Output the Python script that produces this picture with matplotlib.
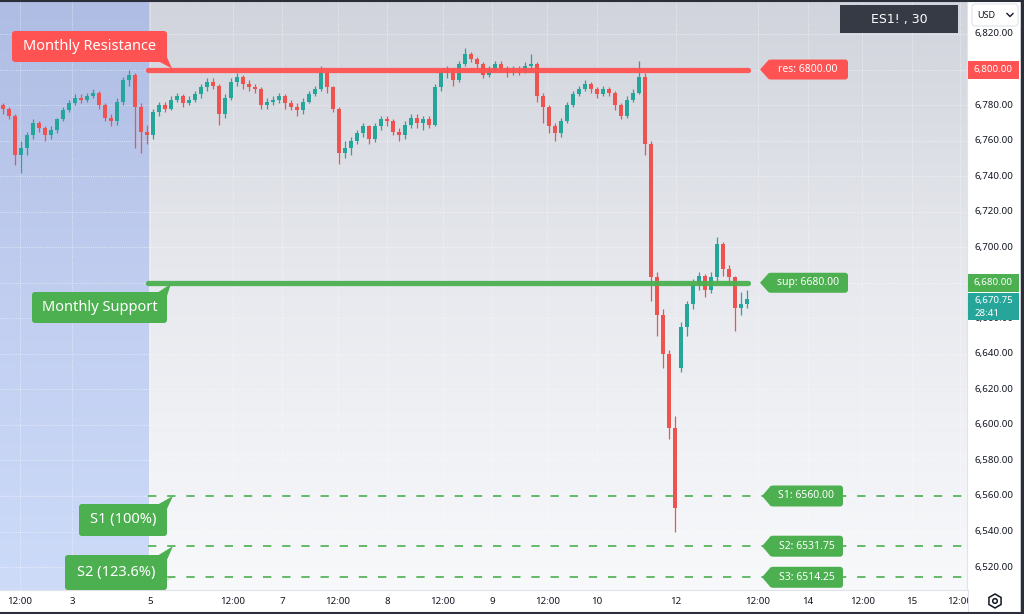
import numpy as np
import matplotlib.pyplot as plt
from matplotlib.colors import LinearSegmentedColormap
from matplotlib.patches import FancyBboxPatch, Polygon, RegularPolygon, Circle, Rectangle

plt.rcParams['font.family'] = ['Noto Sans', 'DejaVu Sans']

# ---------------------------------------------------------------
# ES1! 30m - velas (muestreo ~1 vela cada 6 px)
# ---------------------------------------------------------------
closes = [
    6778, 6774, 6752, 6756, 6763, 6770, 6767, 6763, 6766, 6772,
    6777, 6781, 6784, 6783, 6785, 6787, 6780, 6773, 6771, 6782,
    6794, 6797, 6779, 6765, 6763,
    6776, 6780, 6778, 6783, 6785, 6781, 6783, 6786, 6790, 6793,
    6791, 6775, 6784, 6793, 6796, 6792, 6790, 6789, 6780, 6782,
    6783, 6785, 6781, 6779, 6777, 6782, 6786, 6789, 6798, 6790,
    6778, 6753, 6756, 6760, 6764, 6768, 6761, 6768, 6772, 6771,
    6765, 6763, 6769, 6773, 6770, 6772, 6769, 6790, 6798, 6800,
    6794, 6803, 6809, 6806, 6803, 6797, 6800, 6803, 6801, 6798,
    6800, 6799, 6802, 6803,
    6785, 6779, 6768, 6764, 6771, 6780, 6786, 6789, 6792, 6789,
    6786, 6789, 6787, 6780, 6774, 6783, 6787, 6796, 6758, 6683,
    6662, 6640, 6598, 6553,
    6655, 6668, 6679, 6684, 6676, 6683, 6702, 6688, 6683, 6666, 6668, 6670.75,
]
highs = [
    6781, 6779, 6775, 6760, 6765, 6772, 6771, 6768, 6768, 6773,
    6779, 6783, 6786, 6786, 6787, 6789, 6788, 6781, 6775, 6784,
    6796, 6800, 6798, 6781, 6769,
    6778, 6782, 6782, 6785, 6787, 6786, 6785, 6788, 6792, 6795,
    6795, 6792, 6786, 6795, 6798, 6797, 6794, 6792, 6790, 6784,
    6785, 6787, 6786, 6783, 6781, 6784, 6788, 6791, 6802, 6799,
    6791, 6779, 6760, 6762, 6766, 6770, 6769, 6770, 6774, 6774,
    6772, 6767, 6771, 6775, 6775, 6774, 6774, 6792, 6800, 6802,
    6801, 6805, 6812, 6810, 6807, 6804, 6802, 6805, 6805, 6802,
    6802, 6802, 6804, 6809,
    6804, 6787, 6780, 6770, 6773, 6782, 6788, 6791, 6794, 6793,
    6790, 6791, 6790, 6788, 6781, 6785, 6789, 6805, 6798, 6760,
    6686, 6665, 6642, 6605,
    6658, 6670, 6682, 6686, 6685, 6686, 6706, 6703, 6690, 6684, 6675, 6676,
]
lows = [
    6775, 6772, 6746, 6742, 6752, 6761, 6765, 6760, 6761, 6764,
    6771, 6776, 6780, 6781, 6782, 6784, 6778, 6771, 6768, 6769,
    6780, 6791, 6756, 6753, 6758,
    6761, 6774, 6776, 6777, 6782, 6779, 6780, 6782, 6784, 6788,
    6789, 6769, 6773, 6783, 6791, 6789, 6788, 6787, 6778, 6778,
    6780, 6781, 6778, 6777, 6774, 6775, 6781, 6785, 6788, 6787,
    6776, 6747, 6750, 6752, 6758, 6762, 6758, 6759, 6766, 6768,
    6763, 6760, 6761, 6767, 6767, 6766, 6767, 6768, 6788, 6795,
    6791, 6793, 6802, 6804, 6801, 6795, 6796, 6799, 6799, 6796,
    6797, 6797, 6798, 6800,
    6782, 6770, 6764, 6760, 6762, 6770, 6779, 6785, 6788, 6787,
    6784, 6785, 6785, 6777, 6772, 6773, 6782, 6786, 6752, 6670,
    6650, 6632, 6592, 6540,
    6630, 6650, 6665, 6676, 6672, 6674, 6680, 6684, 6679, 6653, 6662, 6666,
]
first_open  = 6780.0
sunday_open = 6632.0     # hueco de apertura del domingo 12
gap_bar     = 113

opens = [first_open] + closes[:-1]
opens[gap_bar] = sunday_open

# Niveles
res_level  = 6800.00
sup_level  = 6680.00
s_levels   = [6560.00, 6531.75, 6514.25]
s_names    = ["S1", "S2", "S3"]
last_price = 6670.75
countdown  = "28:41"

tick_pos    = [2.8, 11.5, 24.5, 38.3, 46.5, 55.8, 64.0, 73.3, 81.5, 90.7,
               99.0, 112.2, 125.8, 134.2, 143.2, 151.5, 159.5]
tick_labels = ["12:00", "3", "5", "12:00", "7", "12:00", "8", "12:00", "9",
               "12:00", "10", "12", "12:00", "14", "12:00", "15", "12:00"]
price_ticks = np.arange(6520, 6821, 20)

# ---------------------------------------------------------------
ROJO     = '#ff5252'
VERDE    = '#4caf50'
TEAL     = '#26a69a'
VELA_UP  = '#26a69a'
VELA_DN  = '#ef5350'
TXT      = '#131722'
SEP      = '#e0e3eb'

W, H = 1024, 614
fig = plt.figure(figsize=(W / 100, H / 100), dpi=100)
fig.patch.set_facecolor('white')

ax = fig.add_axes([0, 24 / H, 967 / W, 588 / H])
xmin, xmax = -0.5, 160.67
ymin, ymax = 6507.1, 6838.0
zona_azul_fin = 24.2
linea_fin     = 124.2

# fondos degradados
fondo = LinearSegmentedColormap.from_list('fondo', ['#f8f9fb', '#e8eaef', '#d1d4dc'])
azul  = LinearSegmentedColormap.from_list('azul', ['#cddbf9', '#c1cef0', '#afbde4'])
grad = np.linspace(0, 1, 256).reshape(-1, 1)
ax.imshow(grad, cmap=fondo, origin='lower', aspect='auto',
          extent=[xmin, xmax, ymin, ymax], zorder=0)
ax.imshow(grad, cmap=azul, origin='lower', aspect='auto',
          extent=[xmin, zona_azul_fin, ymin, ymax], zorder=0.5)

for p in price_ticks:
    ax.axhline(p, color='white', lw=0.6, ls=':', alpha=0.7, zorder=1)
for t in tick_pos:
    ax.axvline(t, color='white', lw=0.6, ls=':', alpha=0.7, zorder=1)

# velas
o = np.array(opens, dtype=float)
c = np.array(closes, dtype=float)
idx = np.arange(len(c))
col = np.where(c >= o, VELA_UP, VELA_DN)
ax.vlines(idx, lows, highs, colors=col, lw=0.9, zorder=2)
cuerpo = np.maximum(np.abs(c - o), 0.4)
ax.bar(idx, cuerpo, bottom=np.minimum(o, c), width=0.55, color=col,
       linewidth=0, zorder=3)

# niveles
ax.plot([zona_azul_fin, linea_fin], [res_level, res_level], color=ROJO, lw=3.8,
        solid_capstyle='round', alpha=0.95, zorder=4)
ax.plot([zona_azul_fin, linea_fin], [sup_level, sup_level], color=VERDE, lw=3.8,
        solid_capstyle='round', alpha=0.95, zorder=4)
for s in s_levels:
    ax.plot([zona_azul_fin, xmax], [s, s], color=VERDE, lw=1.2,
            ls=(0, (5, 6.5)), zorder=4)

ax.set_xlim(xmin, xmax)
ax.set_ylim(ymin, ymax)
ax.set_yticks([])
ax.set_xticks(tick_pos)
ax.set_xticklabels(tick_labels)
ax.tick_params(axis='x', length=0, pad=5, labelsize=7, labelcolor=TXT)
for lado in ['top', 'left', 'right']:
    ax.spines[lado].set_visible(False)
ax.spines['bottom'].set_color(SEP)
ax.spines['bottom'].set_linewidth(0.8)

# eje de precios
pax = fig.add_axes([967 / W, 24 / H, 54 / W, 588 / H])
pax.set_zorder(3)
pax.set_facecolor('white')
pax.set_xlim(0, 1)
pax.set_ylim(ymin, ymax)
pax.set_xticks([])
pax.set_yticks([])
for lado in ['top', 'bottom', 'right']:
    pax.spines[lado].set_visible(False)
pax.spines['left'].set_color(SEP)
pax.spines['left'].set_linewidth(0.8)
for p in price_ticks:
    pax.text(0.5, p, f"{p:,.2f}", ha='center', va='center', fontsize=7, color=TXT)

# capa de anotaciones en pixeles
fig.canvas.draw()
def py(precio):
    return H - ax.transData.transform((0, precio))[1]

ov = fig.add_axes([0, 0, 1, 1])
ov.set_zorder(10)
ov.set_xlim(0, W)
ov.set_ylim(H, 0)
ov.axis('off')
ov.patch.set_alpha(0)

# esquina inferior derecha (tapa la etiqueta de tiempo cortada)
ov.add_patch(Rectangle((967.5, 590.5), 54, 22, fc='white', ec='none'))
ov.plot([967.5, 967.5], [590, H], color=SEP, lw=0.8)

def caja(x0, y0, w, h, color, texto, fs, tc='white'):
    ov.add_patch(FancyBboxPatch((x0, y0), w, h, boxstyle='round,pad=0,rounding_size=3',
                                fc=color, ec='none'))
    ov.text(x0 + w / 2, y0 + h / 2, texto, ha='center', va='center',
            fontsize=fs, color=tc)

def etiqueta(y, texto, color, x_tip=760, w=80, h=20):
    ov.add_patch(Polygon([(x_tip, y), (x_tip + 9, y - h / 2), (x_tip + 9, y + h / 2)],
                         closed=True, fc=color, ec='none'))
    caja(x_tip + 8, y - h / 2, w, h, color, texto, 7.5)

# llamadas de la izquierda
caja(12, 31, 155, 31, ROJO, "Monthly Resistance", 10.5)
ov.add_patch(Polygon([(158, 61), (166, 55), (172, py(res_level) - 1)], fc=ROJO, ec='none'))
caja(32, 292, 135, 31, VERDE, "Monthly Support", 10.5)
ov.add_patch(Polygon([(157, 293), (166, 299), (171, py(sup_level) + 1)], fc=VERDE, ec='none'))
caja(79, 504, 88, 32, VERDE, "S1 (100%)", 10.5)
ov.add_patch(Polygon([(157, 505), (166, 511), (173, py(s_levels[0]))], fc=VERDE, ec='none'))
caja(65, 555, 102, 35, VERDE, "S2 (123.6%)", 10.5)
ov.add_patch(Polygon([(157, 556), (166, 562), (173, py(s_levels[1]))], fc=VERDE, ec='none'))
ov.add_patch(Polygon([(157, 585), (166, 580), (173, py(s_levels[2]))], fc=VERDE, ec='none'))

# etiquetas de la derecha
etiqueta(py(res_level), f"res: {res_level:.2f}", ROJO)
etiqueta(py(sup_level), f"sup: {sup_level:.2f}", VERDE)
for nombre, s in zip(s_names, s_levels):
    etiqueta(py(s), f"{nombre}: {s:.2f}", VERDE, x_tip=762, w=73, h=21)

# marcas en el eje de precios
ov.add_patch(Rectangle((968, py(res_level) - 9), 51, 18, fc=ROJO, ec='none'))
ov.text(993.5, py(res_level), f"{res_level:,.2f}", ha='center', va='center', fontsize=7, color='white')
ov.add_patch(Rectangle((968, py(sup_level) - 9), 51, 18, fc=VERDE, ec='none'))
ov.text(993.5, py(sup_level), f"{sup_level:,.2f}", ha='center', va='center', fontsize=7, color='white')
yl = py(last_price)
ov.add_patch(Rectangle((968, yl - 6), 51, 27, fc=TEAL, ec='none'))
ov.text(993.5, yl + 1, f"{last_price:,.2f}", ha='center', va='center', fontsize=7, color='white')
ov.text(975, yl + 14, countdown, ha='left', va='center', fontsize=7, color='white')

# cabecera
ov.add_patch(Rectangle((840, 5), 118, 28, fc='#363a45', ec='none'))
ov.text(899, 19, "ES1! , 30", ha='center', va='center', fontsize=9, color='white',
        family=['DejaVu Sans'])
ov.add_patch(FancyBboxPatch((972, 4), 46, 22, boxstyle='round,pad=0,rounding_size=3',
                            fc='white', ec=SEP, lw=0.8))
ov.text(977, 15, "USD", ha='left', va='center', fontsize=6.5, color=TXT, fontweight='bold')
ov.plot([1007, 1010, 1013], [13.5, 16.5, 13.5], color=TXT, lw=1)

# icono de ajustes
ov.add_patch(RegularPolygon((995, 601), 6, radius=7, fill=False, ec=TXT, lw=1.1))
ov.add_patch(Circle((995, 601), 2.3, fill=False, ec=TXT, lw=1.1))

# marco
ov.plot([0, W], [1, 1], color='#2a2e39', lw=1.5)
ov.plot([W - 2, W - 2], [0, H], color='#2a2e39', lw=2.5)
ov.plot([0, W], [H - 1, H - 1], color='#2a2e39', lw=1.5)

fig.savefig('out.png', dpi=100)
